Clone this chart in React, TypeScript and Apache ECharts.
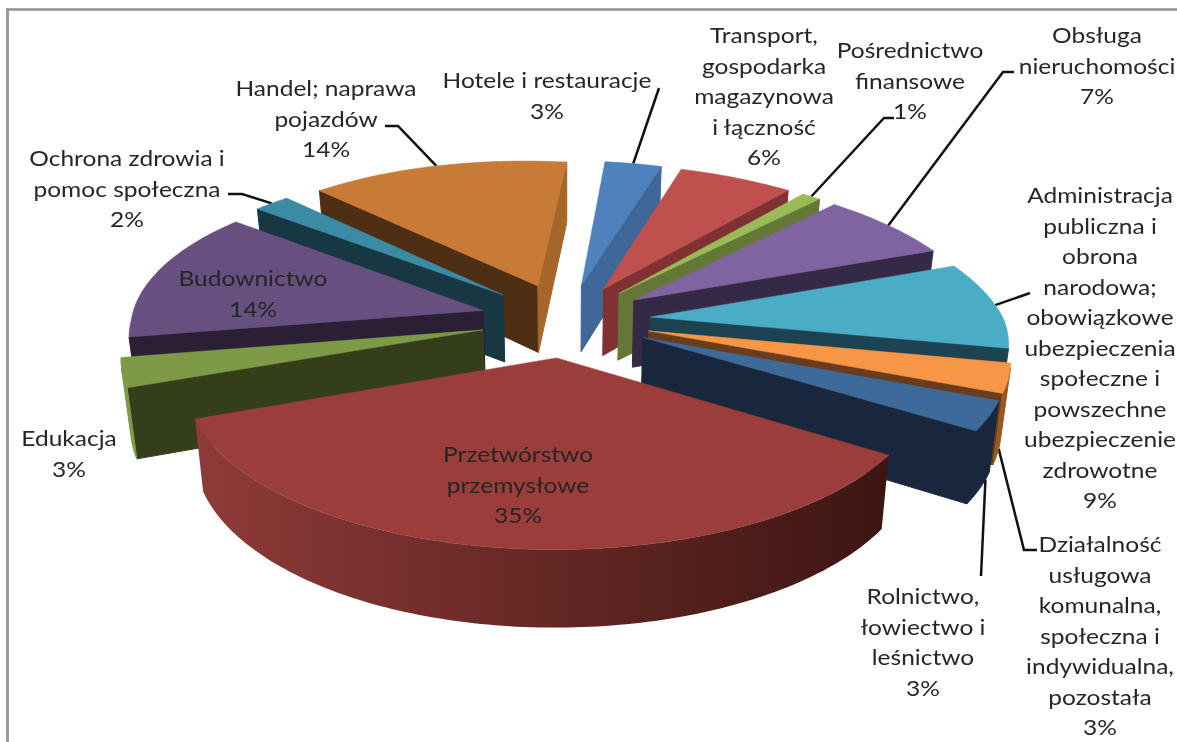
import React, { useEffect, useRef } from "react";
import * as echarts from "echarts";

// ---- data ----
const sliceNames = [
  "Hotele i restauracje",
  "Transport, gospodarka magazynowa i łączność",
  "Pośrednictwo finansowe",
  "Obsługa nieruchomości",
  "Administracja publiczna i obrona narodowa; obowiązkowe ubezpieczenia społeczne i powszechne ubezpieczenie zdrowotne",
  "Działalność usługowa komunalna, społeczna i indywidualna, pozostała",
  "Rolnictwo, łowiectwo i leśnictwo",
  "Przetwórstwo przemysłowe",
  "Edukacja",
  "Budownictwo",
  "Ochrona zdrowia i pomoc społeczna",
  "Handel; naprawa pojazdów",
];
const sliceValues = [3, 6, 1, 7, 9, 3, 3, 35, 3, 14, 2, 14];
const labelLines = [
  ["Hotele i restauracje"],
  ["Transport,", "gospodarka", "magazynowa", "i łączność"],
  ["Pośrednictwo", "finansowe"],
  ["Obsługa", "nieruchomości"],
  ["Administracja", "publiczna i", "obrona", "narodowa;", "obowiązkowe", "ubezpieczenia", "społeczne i", "powszechne", "ubezpieczenie", "zdrowotne"],
  ["Działalność", "usługowa", "komunalna,", "społeczna i", "indywidualna,", "pozostała"],
  ["Rolnictwo,", "łowiectwo i", "leśnictwo"],
  ["Przetwórstwo", "przemysłowe"],
  ["Edukacja"],
  ["Budownictwo"],
  ["Ochrona zdrowia i", "pomoc społeczna"],
  ["Handel; naprawa", "pojazdów"],
];

// ---- styles ----
const topColors = ["#4f81bd", "#c0504d", "#9bbb59", "#8064a2", "#4bacc6", "#f79646", "#3e6a9a", "#9b3e3b", "#7e9a47", "#674f80", "#3b8ba4", "#c87a37"];
const startFaceColors = ["#2f4d72", "#5f2625", "#4a5a2a", "#352a45", "#1e4350", "#683c1c", "#18273c", "#3d1613", "#353e1b", "#2a1f35", "#173843", "#4f2f13"];
const endFaceColors = ["#3f6797", "#7f3231", "#637837", "#352a45", "#1e4350", "#683c1c", "#18273c", "#3d1613", "#353e1b", "#2a1f35", "#173843", "#a56729"];
const rimColors = [
  ["#3f6797", "#3f6797"], ["#7f3231", "#7f3231"], ["#637837", "#637837"], ["#352a45", "#352a45"],
  ["#1e4350", "#1e4350"], ["#96591f", "#96591f"], ["#18273c", "#18273c"], ["#8e3b38", "#3c1512"],
  ["#7e9a47", "#7e9a47"], ["#2a1f35", "#2a1f35"], ["#173843", "#173843"], ["#4f2f13", "#4f2f13"],
];
// label layout: text centre x, centre y of the first line, leader elbows (from the slice rim outwards)
const labelX = [547, 764, 910, 1097, 1100, 1100, 923, 518, 69, 253, 127, 326];
const labelY = [80, 35, 50, 35, 195, 544, 596, 454, 438, 278, 158, 88];
const LINE_HEIGHT = 30.5;
const leaders: number[][][] = [
  [[659, 88]],
  [],
  [[884, 118], [894, 118]],
  [[1003, 72], [1014, 72]],
  [[1030, 293]],
  [[1024, 550], [1037, 550]],
  [[981, 576]],
  [],
  [],
  [],
  [[242, 194], [228, 194]],
  [[398, 126], [385, 126]],
];
const leaderAngleShift = [0, 0, 0, 0, 0, 0, -3, 0, 0, 0, 0, 0];
const leaderFromBase = [false, false, false, false, false, true, true, false, false, false, false, false];

// ---- projection of the tilted, exploded pie ----
const firstAngle = 8;
const CX = 566, CY = 320, RX = 353, RY = 152, PERSP = 0.144, EXPLODE = 0.242, SKEW = 16, DEPTH = 68, SHRINK = 0.022;
const total = sliceValues.reduce((a, b) => a + b, 0);
const rad = (d: number) => (d * Math.PI) / 180;
const starts: number[] = [];
sliceValues.reduce((acc, v, i) => { starts[i] = firstAngle + (acc / total) * 360; return acc + v; }, 0);
const sweep = (i: number) => (sliceValues[i] / total) * 360;

function project(X: number, Y: number) {
  const s = 1 / (1 - PERSP * Y);
  return { x: CX + X * RX * s + SKEW * Math.min(Y, 0), y: CY + Y * RY * s, s };
}
function slicePoint(i: number, theta: number, r: number) {
  const bis = rad(starts[i] + sweep(i) / 2);
  const X = EXPLODE * Math.sin(bis) + r * Math.sin(rad(theta));
  const Y = -EXPLODE * Math.cos(bis) - r * Math.cos(rad(theta));
  return project(X, Y);
}
const topPt = (p: any) => [p.x, p.y];
const lowPt = (p: any) => [CX + (p.x - CX) * (1 - SHRINK), p.y + DEPTH * Math.pow(p.s, 0.7)];
function quadArea(a: number[], b: number[], c: number[], d: number[]) {
  const pts = [a, b, c, d];
  let sum = 0;
  pts.forEach((p, k) => { const q = pts[(k + 1) % 4]; sum += p[0] * q[1] - q[0] * p[1]; });
  return sum / 2;
}

function renderSlice(_: any, api: any) {
  const i = api.value(0);
  const apex = slicePoint(i, 0, 0);
  const rim: any[] = [];
  const steps = Math.max(2, Math.ceil(sweep(i)));
  for (let k = 0; k <= steps; k++) rim.push(slicePoint(i, starts[i] + (sweep(i) * k) / steps, 1));
  const children: any[] = [];
  const quad = (p: any, q: any, fill: string) => {
    if (quadArea(topPt(p), topPt(q), lowPt(q), lowPt(p)) < 0) {
      children.push({ type: "polygon", shape: { points: [topPt(p), topPt(q), lowPt(q), lowPt(p)] }, style: { fill, stroke: fill, lineWidth: 1 } });
    }
  };
  quad(apex, rim[0], startFaceColors[i]);
  quad(rim[rim.length - 1], apex, endFaceColors[i]);
  const visible: any[] = [];
  for (let k = 0; k < rim.length - 1; k++) {
    if (quadArea(topPt(rim[k]), topPt(rim[k + 1]), lowPt(rim[k + 1]), lowPt(rim[k])) < 0) {
      if (!visible.length) visible.push(rim[k]);
      visible.push(rim[k + 1]);
    }
  }
  if (visible.length) {
    const solid = rimColors[i][0] === rimColors[i][1];
    const fill = solid
      ? rimColors[i][0]
      : new echarts.graphic.LinearGradient(0, 0, 1, 0, [
          { offset: 0, color: rimColors[i][0] },
          { offset: 1, color: rimColors[i][1] },
        ]);
    children.push({
      type: "polygon",
      shape: { points: [...visible.map(topPt), ...visible.slice().reverse().map(lowPt)] },
      style: { fill, stroke: solid ? rimColors[i][0] : undefined, lineWidth: 1 },
    });
  }
  children.push({ type: "polygon", shape: { points: [topPt(apex), ...rim.map(topPt)] }, style: { fill: topColors[i], stroke: topColors[i], lineWidth: 0.5 } });
  return { type: "group", children };
}

function renderLeader(_: any, api: any) {
  const i = api.value(0);
  if (!leaders[i].length) return { type: "group", children: [] };
  const a = slicePoint(i, starts[i] + sweep(i) / 2 + leaderAngleShift[i], 1);
  const from = leaderFromBase[i] ? lowPt(a) : topPt(a);
  return {
    type: "polyline",
    shape: { points: [from, ...leaders[i]] },
    style: { fill: "none", stroke: "#111111", lineWidth: 2.5 },
  };
}

function renderLabel(_: any, api: any) {
  const i = api.value(0);
  return {
    type: "text",
    x: labelX[i],
    y: labelY[i] - LINE_HEIGHT / 2,
    scaleX: 1.14,
    style: {
      text: [...labelLines[i], `${sliceValues[i]}%`].join("\n"),
      fill: "#262626",
      font: '21.5px Lato, "Noto Sans", sans-serif',
      lineHeight: LINE_HEIGHT,
      align: "center",
      verticalAlign: "top",
    },
  };
}

const drawOrder = sliceValues
  .map((_, i) => i)
  .sort((a, b) => -Math.cos(rad(starts[a] + sweep(a) / 2)) - -Math.cos(rad(starts[b] + sweep(b) / 2)));
const labelData = sliceValues.map((_, i) => ({ name: sliceNames[i], value: [i] }));

export default function App() {
  const ref = useRef<HTMLDivElement>(null);
  useEffect(() => {
    document.body.style.margin = "0";
    const chart = echarts.init(ref.current!, undefined, { renderer: "svg" });
    chart.setOption({
      animation: false,
      backgroundColor: "#ffffff",
      graphic: [
        { type: "line", shape: { x1: 7.5, y1: 8.5, x2: 7.5, y2: 742 }, style: { stroke: "#9a9a9a", lineWidth: 3 } },
        { type: "line", shape: { x1: 6, y1: 9.5, x2: 1177, y2: 9.5 }, style: { stroke: "#8f8f8f", lineWidth: 2.5 } },
      ],
      series: [
        { type: "custom", name: "leaders", coordinateSystem: "none", renderItem: renderLeader, data: labelData, z: 1, silent: true },
        { type: "custom", name: "slices", coordinateSystem: "none", renderItem: renderSlice, data: drawOrder.map((i) => ({ name: sliceNames[i], value: [i] })), z: 2, silent: true },
        { type: "custom", name: "labels", coordinateSystem: "none", renderItem: renderLabel, data: labelData, z: 3, silent: true },
      ],
    });
    return () => chart.dispose();
  }, []);
  return <div ref={ref} style={{ position: "absolute", left: 0, top: 0, width: 1177, height: 742, filter: "blur(0.4px)" }} />;
}
